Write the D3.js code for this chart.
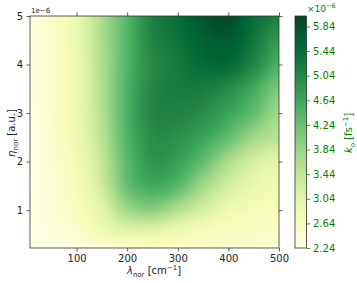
<!DOCTYPE html>
<html><head><meta charset="utf-8">
<script src="https://cdn.jsdelivr.net/npm/d3@7"></script>
<style>body{margin:0;background:#fff} svg{display:block;font-family:"DejaVu Sans",sans-serif}</style>
</head><body><svg id="c" width="357" height="283"></svg>
<script>
// ---- data ----
const lambdaGrid = [8, 50, 100, 150, 200, 250, 300, 350, 400, 450, 500];      // cm^-1
const etaGrid = [0.22, 0.6, 1, 1.5, 2, 2.5, 3, 3.5, 4, 4.5, 5];               // ×1e-6 a.u.
// k_o (×1e-6 fs^-1), one row per eta (bottom to top), one column per lambda
const kRow022 = [2.24, 2.30, 2.36, 2.45, 2.55, 2.60, 2.60, 2.55, 2.50, 2.48, 2.45];
const kRow06  = [2.25, 2.36, 2.50, 2.85, 3.10, 3.10, 2.90, 2.75, 2.65, 2.60, 2.58];
const kRow10  = [2.25, 2.40, 2.62, 3.05, 3.75, 3.95, 3.60, 3.22, 2.88, 2.73, 2.69];
const kRow15  = [2.26, 2.42, 2.70, 3.30, 4.25, 4.60, 4.38, 3.75, 3.25, 2.95, 2.80];
const kRow20  = [2.26, 2.45, 2.78, 3.42, 4.35, 4.85, 4.72, 4.30, 3.67, 3.22, 3.00];
const kRow25  = [2.27, 2.48, 2.84, 3.52, 4.45, 4.97, 4.92, 4.68, 4.30, 3.78, 3.50];
const kRow30  = [2.28, 2.50, 2.88, 3.58, 4.50, 5.06, 5.10, 4.98, 4.68, 4.30, 3.74];
const kRow35  = [2.29, 2.51, 2.89, 3.61, 4.48, 5.05, 5.22, 5.20, 5.00, 4.60, 4.08];
const kRow40  = [2.30, 2.52, 2.90, 3.62, 4.45, 5.00, 5.25, 5.47, 5.50, 5.06, 4.50];
const kRow45  = [2.31, 2.53, 2.91, 3.65, 4.44, 5.08, 5.35, 5.62, 5.72, 5.30, 4.80];
const kRow50  = [2.32, 2.54, 2.92, 3.67, 4.42, 5.14, 5.44, 5.80, 5.95, 5.44, 5.17];
const kValues = [kRow022, kRow06, kRow10, kRow15, kRow20, kRow25, kRow30, kRow35, kRow40, kRow45, kRow50];
const xTicks = [100, 200, 300, 400, 500];
const yTicks = [1, 2, 3, 4, 5];
const cTicks = [2.24, 2.64, 3.04, 3.44, 3.84, 4.24, 4.64, 5.04, 5.44, 5.84];
const vMin = 2.24, vMax = 6.01;

// ---- layout ----
const svg = d3.select("#c");
const L = 30, R = 279, T = 16, B = 248;
const x = d3.scaleLinear([8, 500], [L, R]);
const y = d3.scaleLinear([0.22, 5], [B, T]);
const cmap = ["#ffffe5","#f7fcb9","#d9f0a3","#addd8e","#78c679","#41ab5d","#238443","#006837","#004529"];
const color = d3.scaleLinear()
  .domain(cmap.map((_, i) => vMin + i / (cmap.length - 1) * (vMax - vMin)))
  .range(cmap).clamp(true);

// ---- heatmap (smooth Catmull-Rom sampling of the value grid) ----
const ix = d3.scaleLinear(lambdaGrid, d3.range(lambdaGrid.length)).clamp(true);
const iy = d3.scaleLinear(etaGrid, d3.range(etaGrid.length)).clamp(true);
const nx = lambdaGrid.length, ny = etaGrid.length;
function g(i, j) { i = Math.max(0, Math.min(nx - 1, i)); j = Math.max(0, Math.min(ny - 1, j)); return kValues[j][i]; }
function cr(p0, p1, p2, p3, t) {
  return 0.5 * (2 * p1 + (-p0 + p2) * t + (2 * p0 - 5 * p1 + 4 * p2 - p3) * t * t + (-p0 + 3 * p1 - 3 * p2 + p3) * t * t * t);
}
function sample(lam, eta) {
  const fi = ix(lam), fj = iy(eta);
  const i0 = Math.min(nx - 2, Math.floor(fi)), j0 = Math.min(ny - 2, Math.floor(fj));
  const tx = fi - i0, ty = fj - j0;
  const rows = [];
  for (let dj = -1; dj <= 2; dj++) {
    rows.push(cr(g(i0 - 1, j0 + dj), g(i0, j0 + dj), g(i0 + 1, j0 + dj), g(i0 + 2, j0 + dj), tx));
  }
  return cr(rows[0], rows[1], rows[2], rows[3], ty);
}
const W = R - L, H = B - T;
const cv = document.createElement("canvas");
cv.width = W; cv.height = H;
const ctx = cv.getContext("2d");
const img = ctx.createImageData(W, H);
for (let py = 0; py < H; py++) {
  const eta = y.invert(T + py + 0.5);
  for (let px = 0; px < W; px++) {
    const lam = x.invert(L + px + 0.5);
    const c = d3.rgb(color(sample(lam, eta)));
    const k = (py * W + px) * 4;
    img.data[k] = c.r; img.data[k + 1] = c.g; img.data[k + 2] = c.b; img.data[k + 3] = 255;
  }
}
ctx.putImageData(img, 0, 0);
svg.append("image").attr("x", L).attr("y", T).attr("width", W).attr("height", H)
  .attr("preserveAspectRatio", "none").attr("href", cv.toDataURL());

// ---- axes ----
const axCol = "#333";
function styleAxis(gs, textCol) {
  gs.select(".domain").remove();
  gs.selectAll(".tick line").attr("stroke", axCol).attr("stroke-width", 0.8);
  gs.selectAll(".tick text").attr("fill", textCol || "#222").style("font-size", "10px")
    .style("font-family", "'DejaVu Sans',sans-serif");
}
svg.append("g").attr("transform", `translate(0,${B})`)
  .call(d3.axisBottom(x).tickValues(xTicks).tickSize(3.5).tickPadding(3.5)).call(styleAxis);
svg.append("g").attr("transform", `translate(0,${T})`)
  .call(d3.axisTop(x).tickValues(xTicks).tickSize(3.5).tickFormat("")).call(styleAxis);
svg.append("g").attr("transform", `translate(${L},0)`)
  .call(d3.axisLeft(y).tickValues(yTicks).tickSize(3.5).tickPadding(3.5).tickFormat(d3.format("d"))).call(styleAxis);
svg.append("g").attr("transform", `translate(${R},0)`)
  .call(d3.axisRight(y).tickValues(yTicks).tickSize(3.5).tickFormat("")).call(styleAxis);
svg.append("rect").attr("x", L).attr("y", T).attr("width", W).attr("height", H)
  .attr("fill", "none").attr("stroke", axCol).attr("stroke-width", 0.8);

svg.append("text").attr("x", 31).attr("y", 13).attr("fill", "#222").style("font-size", "7px").text("1e\u22126");

// x label
const xl = svg.append("text").attr("x", 154).attr("y", 274).attr("text-anchor", "middle")
  .attr("fill", "#222").style("font-size", "10px");
xl.append("tspan").style("font-style", "italic").text("\u03bb");
xl.append("tspan").attr("dy", 2.5).style("font-size", "7px").text("nor");
xl.append("tspan").attr("dy", -2.5).text(" [cm");
xl.append("tspan").attr("dy", -4).style("font-size", "7px").text("\u22121");
xl.append("tspan").attr("dy", 4).text("]");

// y label
const yl = svg.append("text").attr("transform", "translate(15,133) rotate(-90)").attr("text-anchor", "middle")
  .attr("fill", "#222").style("font-size", "10px");
yl.append("tspan").style("font-style", "italic").text("\u03b7");
yl.append("tspan").attr("dy", 2.5).style("font-size", "7px").text("nor");
yl.append("tspan").attr("dy", -2.5).text(" [a.u.]");

// ---- colorbar ----
const green = "#008000";
const CX0 = 295, CX1 = 306.5;
const cY = d3.scaleLinear([vMin, vMax], [B, T]);
const grad = svg.append("defs").append("linearGradient").attr("id", "cb")
  .attr("x1", 0).attr("y1", 1).attr("x2", 0).attr("y2", 0);
cmap.forEach((c, i) => grad.append("stop").attr("offset", i / (cmap.length - 1)).attr("stop-color", c));
svg.append("rect").attr("x", CX0).attr("y", T).attr("width", CX1 - CX0).attr("height", H)
  .attr("fill", "url(#cb)").attr("stroke", axCol).attr("stroke-width", 0.8);
const cax = svg.append("g").attr("transform", `translate(${CX1},0)`)
  .call(d3.axisRight(cY).tickValues(cTicks).tickSize(3.5).tickPadding(3).tickFormat(d3.format(".2f")))
  .call(s => styleAxis(s, green));
cax.selectAll(".tick line").attr("stroke", green);

const ct = svg.append("text").attr("x", 307).attr("y", 12).attr("fill", green).style("font-size", "9px");
ct.append("tspan").text("\u00d710");
ct.append("tspan").attr("dy", -4).style("font-size", "6.5px").text("\u22126");

const kl = svg.append("text").attr("transform", "translate(352,133) rotate(-90)").attr("text-anchor", "middle")
  .attr("fill", green).style("font-size", "10px");
kl.append("tspan").style("font-style", "italic").text("k");
kl.append("tspan").attr("dy", 2.5).style("font-size", "7px").text("o");
kl.append("tspan").attr("dy", -2.5).text(" [fs");
kl.append("tspan").attr("dy", -4).style("font-size", "7px").text("\u22121");
kl.append("tspan").attr("dy", 4).text("]");
</script></body></html>
